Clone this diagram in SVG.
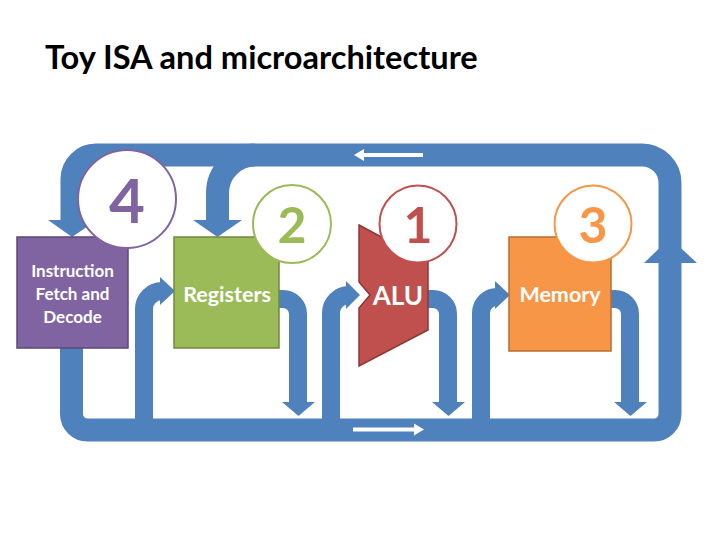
<svg xmlns="http://www.w3.org/2000/svg" width="720" height="557" viewBox="0 0 720 557">
<style>
.band{fill:none;stroke:#4F81BD;stroke-width:23}
.shaft{fill:none;stroke:#4F81BD;stroke-width:18}
.head{fill:#4F81BD}
.wa{fill:none;stroke:#FFFFFF;stroke-width:4}
.wh{fill:#FFFFFF}
.t{font-family:Lato,"Liberation Sans",sans-serif;font-weight:bold;text-anchor:middle}
.lbl{fill:#FFFFFF}
.circ{fill:#FFFFFF;stroke-width:2}
</style>
<rect width="720" height="557" fill="#FFFFFF"/>
<text x="45" y="69" font-family="Lato,'Liberation Sans',sans-serif" font-weight="bold" font-size="32.6" fill="#000000">Toy ISA and microarchitecture</text>
<g id="connectors">
  <path class="band" d="M71.5,347 L71.5,414 A16,16 0 0 0 87.5,430 L654,430 A16,16 0 0 0 670,414 L670,250"/>
  <polygon class="head" points="644,263 697,263 670,238"/>
  <path class="band" d="M670,250 L670,183 A28,28 0 0 0 642,155 L96,155 A24,24 0 0 0 72,179 L72,222"/>
  <polygon class="head" points="48,220 97,220 72,237"/>
  <path class="band" d="M255,155 A38,38 0 0 0 217.5,193 L217.5,222"/>
  <polygon class="head" points="193,220 242,220 217.5,237"/>
  <path class="wa" d="M362,155 L423,155"/>
  <polygon class="wh" points="354,155 364,149 364,161"/>
  <path class="wa" d="M353,429.5 L415,429.5"/>
  <polygon class="wh" points="424,429.5 414,423.5 414,435.5"/>
  <path class="shaft" d="M144,420 L144,309 A18,18 0 0 1 162,291"/>
  <polygon class="head" points="160,277 175,291 160,305"/>
  <path class="shaft" d="M278,299 L283,299 A15,15 0 0 1 298,314 L298,404"/>
  <polygon class="head" points="282,402 315,402 298.5,416"/>
  <path class="shaft" d="M331,420 L331,313 A18,18 0 0 1 349,295"/>
  <polygon class="head" points="346,281 360,295 346,309"/>
  <path class="shaft" d="M427,299 L433,299 A15,15 0 0 1 448,314 L448,404"/>
  <polygon class="head" points="432,402 465,402 448.5,416"/>
  <path class="shaft" d="M481,420 L481,313 A16,16 0 0 1 497,297"/>
  <polygon class="head" points="495,281 510,295 495,309"/>
  <path class="shaft" d="M610,299 L615,299 A15,15 0 0 1 630,314 L630,404"/>
  <polygon class="head" points="614,402 647,402 630.5,416"/>
</g>
<g id="ifd">
  <rect x="17" y="237" width="111" height="111" fill="#8064A2" stroke="#5C4776" stroke-width="1.5"/>
  <text class="t lbl" x="72.5" y="277" font-size="17">Instruction</text>
  <text class="t lbl" x="72.5" y="300" font-size="17">Fetch and</text>
  <text class="t lbl" x="72.5" y="323" font-size="17">Decode</text>
</g>
<g id="registers">
  <rect x="174" y="237" width="105" height="111" fill="#9BBB59" stroke="#71893F" stroke-width="1.5"/>
  <text class="t lbl" x="227" y="302" font-size="21.5">Registers</text>
</g>
<g id="alu">
  <polygon points="359,225 428,262 428,330 359,366 359,308 370,295 359,282" fill="#C0504D" stroke="#8C3836" stroke-width="1.5"/>
  <text class="t lbl" x="398" y="305" font-size="26">ALU</text>
</g>
<g id="memory">
  <rect x="509" y="237" width="102" height="114" fill="#F79646" stroke="#B66D31" stroke-width="1.5"/>
  <text class="t lbl" x="560" y="302" font-size="21.5">Memory</text>
</g>
<g id="step4">
  <circle class="circ" cx="127" cy="199" r="49" stroke="#8064A2"/>
  <text class="t" x="127" y="223" font-size="62" fill="#8064A2">4</text>
</g>
<g id="step2">
  <circle class="circ" cx="292" cy="224" r="39" stroke="#9BBB59"/>
  <text class="t" x="292" y="243" font-size="50" fill="#9BBB59">2</text>
</g>
<g id="step1">
  <circle class="circ" cx="418" cy="224" r="38.5" stroke="#C0504D"/>
  <text class="t" x="418" y="243" font-size="50" fill="#C0504D">1</text>
</g>
<g id="step3">
  <circle class="circ" cx="593" cy="224" r="38.5" stroke="#F79646"/>
  <text class="t" x="593" y="243" font-size="50" fill="#F79646">3</text>
</g>
</svg>
